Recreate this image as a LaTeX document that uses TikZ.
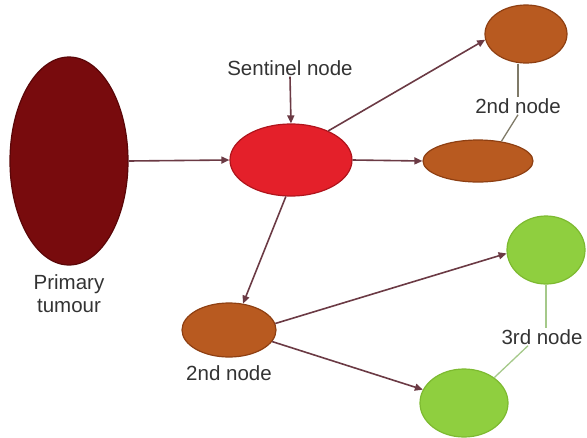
\documentclass[tikz,border=0pt]{standalone}
\usepackage{fontspec}
\setmainfont{Liberation Sans}
\usetikzlibrary{shapes.geometric,arrows.meta}
\definecolor{tumour}{HTML}{780B0D}
\definecolor{tumourb}{HTML}{5A0608}
\definecolor{sent}{HTML}{E4202A}
\definecolor{sentb}{HTML}{B0141C}
\definecolor{brn}{HTML}{B85A20}
\definecolor{brnb}{HTML}{8E3F12}
\definecolor{grn}{HTML}{8FCF3F}
\definecolor{grnb}{HTML}{7DBA30}
\definecolor{arr}{HTML}{6B3A44}
\definecolor{txt}{HTML}{333333}
\definecolor{lbrn}{HTML}{7F7A68}
\definecolor{lgrn}{HTML}{A5C98A}
\tikzset{
  blob/.style={ellipse, inner sep=0pt, line width=1.2pt},
  lab/.style={text=txt, font=\fontsize{20.5}{23}\selectfont, inner sep=1pt, align=center},
  conn/.style={draw=arr, line width=1.6pt, -{Triangle[length=8pt,width=7pt]}},
  tie2/.style={draw=lbrn, line width=1.3pt},
  tie3/.style={draw=lgrn, line width=1.3pt}
}
\begin{document}
\begin{tikzpicture}[x=1pt,y=-1pt]
\useasboundingbox (0,0) rectangle (587,437);
% ellipses
\node[blob, fill=tumour, draw=tumourb, minimum width=118pt, minimum height=208pt] (pt) at (69,161) {};
\node[blob, fill=sent, draw=sentb, minimum width=122pt, minimum height=72pt] (sn) at (291,160) {};
\node[blob, fill=brn, draw=brnb, minimum width=82pt, minimum height=58pt] (b1) at (526,34) {};
\node[blob, fill=brn, draw=brnb, minimum width=110pt, minimum height=42pt] (b2) at (478,161) {};
\node[blob, fill=brn, draw=brnb, minimum width=94pt, minimum height=54pt] (b3) at (229,330) {};
\node[blob, fill=grn, draw=grnb, minimum width=78pt, minimum height=68pt] (g1) at (546,250) {};
\node[blob, fill=grn, draw=grnb, minimum width=88pt, minimum height=68pt] (g2) at (464,403) {};
% labels
\node[lab] (ptl) at (69,294) {Primary\\tumour};
\node[lab] (snl) at (290,68) {Sentinel node};
\node[lab] (l2a) at (518,106) {2nd node};
\node[lab] (l2b) at (229,373) {2nd node};
\node[lab] (l3) at (542,337) {3rd node};
% arrows
\draw[conn] (pt.east) -- (sn.west);
\draw[conn] (snl.south) -- (sn.north);
\draw[conn] (sn.38) -- (b1.188);
\draw[conn] (sn.east) -- (b2.west);
\draw[conn] (sn.-98) -- (b3.62);
\draw[conn] (b3.8) -- (g1.185);
\draw[conn] (b3.-15) -- (g2.162);
% label ties
\draw[tie2] (b1.south -| l2a.north) -- (l2a.north);
\draw[tie2] (l2a.south) -- (b2.40);
\draw[tie3] (g1.south) -- (g1.south |- l3.north);
\draw[tie3] ([xshift=-14pt]l3.south) -- (g2.40);
\end{tikzpicture}
\end{document}
